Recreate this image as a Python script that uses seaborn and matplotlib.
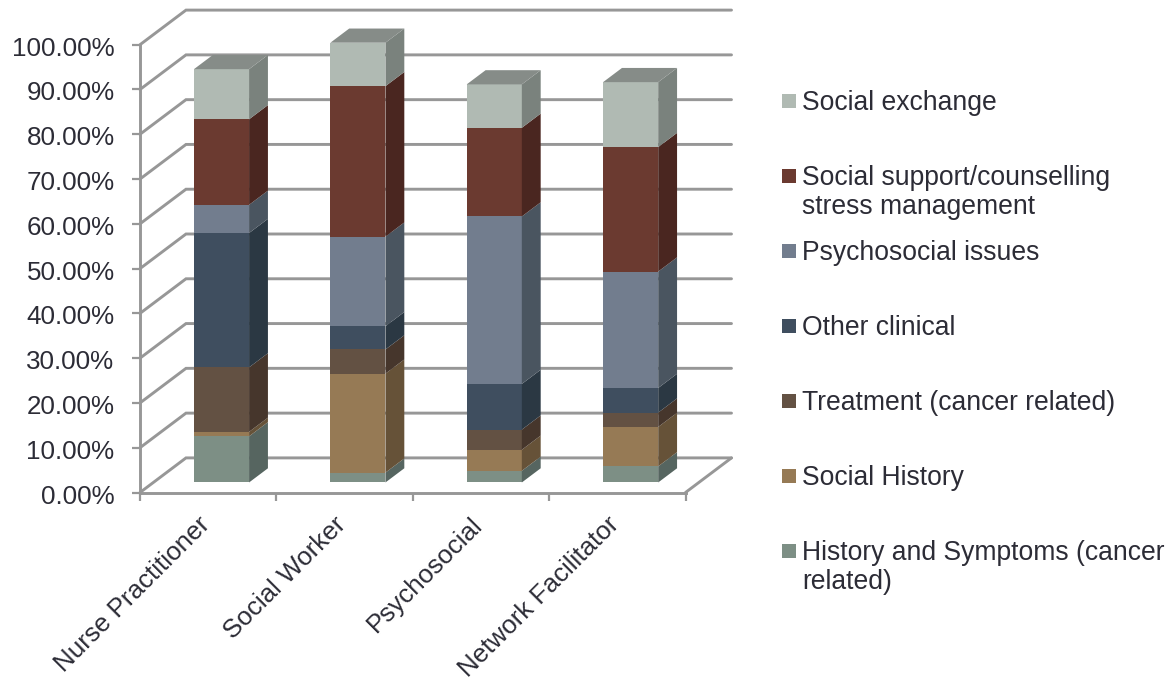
import numpy as np
import matplotlib
matplotlib.use("Agg")
import matplotlib.pyplot as plt
from matplotlib.patches import Rectangle
from matplotlib.transforms import ScaledTranslation
import seaborn as sns

# Topic shares per role, in percent, stacked from the bottom up
categories = ["Nurse Practitioner", "Social Worker", "Psychosocial", "Network Facilitator"]
history_symptoms = [10.3, 2.2, 2.6, 3.6]
social_history = [1.0, 22.1, 4.7, 8.8]
treatment = [14.4, 5.4, 4.5, 3.2]
other_clinical = [30.0, 5.2, 10.2, 5.5]
psychosocial = [6.3, 20.0, 37.4, 26.0]
social_support = [19.1, 33.6, 19.8, 27.8]
social_exchange = [11.2, 9.7, 9.7, 14.5]

series_names = [
    "History and Symptoms (cancer\nrelated)", "Social History", "Treatment (cancer related)",
    "Other clinical", "Psychosocial issues", "Social support/counselling\nstress management",
    "Social exchange",
]
series_values = [history_symptoms, social_history, treatment, other_clinical,
                 psychosocial, social_support, social_exchange]
front_colors = ["#7D8F85", "#967A55", "#635143", "#3F4E5F", "#727D8E", "#6B3A30", "#B0BAB3"]
side_colors = ["#566560", "#665238", "#46362C", "#2B3843", "#4A5560", "#4A2620", "#7A827D"]
top_color = "#868C88"
grid_color = "#979797"
text_color = "#2C2C36"

W, H = 1171, 680
sns.set_theme(style="white")
plt.rcParams["font.family"] = ["Liberation Sans", "DejaVu Sans"]

fig = plt.figure(figsize=(W / 100, H / 100), dpi=100, facecolor="white")
x0, x1, y_bottom, y_top = 140, 685.5, 492.5, 44.7
ax = fig.add_axes([x0 / W, 1 - y_bottom / H, (x1 - x0) / W, (y_bottom - y_top) / H])
ax.set_facecolor("none")

# Oblique projection: one unit of depth moves a point by (DX, DY) in data units
DX = 46 / ((x1 - x0) / 4)
DY = 34.6 / ((y_bottom - y_top) / 100)
depth_front, depth_size = 0.29, 0.41
bar_width = 0.404

# Back wall and floor
lw = 2.1
for v in np.arange(0, 101, 10):
    ax.plot([-0.5, -0.5 + DX, 3.5 + DX], [v, v + DY, v + DY], color=grid_color, lw=lw,
            clip_on=False, zorder=1, solid_joinstyle="miter")
ax.plot([3.5, 3.5 + DX], [0, DY], color=grid_color, lw=lw, clip_on=False, zorder=1)

# Front faces through seaborn, each series resting on the ones below it
positions = np.arange(len(categories)) + depth_front * DX
cumulative = np.zeros(len(categories))
for values, color in zip(series_values, front_colors):
    bottoms = cumulative + depth_front * DY
    sns.barplot(x=positions, y=values, bottom=bottoms, native_scale=True, width=bar_width,
                color=color, saturation=1, linewidth=0, ax=ax, zorder=3, clip_on=False)
    cumulative = cumulative + np.array(values)

# Side and top faces derived from the same stacked values
dx, dy = depth_size * DX, depth_size * DY
for i, pos in enumerate(positions):
    xr = pos + bar_width / 2
    xl = pos - bar_width / 2
    base = depth_front * DY
    for values, color in zip(series_values, side_colors):
        top = base + values[i]
        ax.fill([xr, xr + dx, xr + dx, xr], [base, base + dy, top + dy, top],
                color=color, lw=0, zorder=3, clip_on=False)
        base = top
    ax.fill([xl, xr, xr + dx, xl + dx], [base, base, base + dy, base + dy],
            color=top_color, lw=0, zorder=3, clip_on=False)

# Axes, ticks and labels
ax.set_xlim(-0.5, 3.5)
ax.set_ylim(0, 100)
sns.despine(ax=ax, top=True, right=True)
for side in ("left", "bottom"):
    ax.spines[side].set_color(grid_color)
    ax.spines[side].set_linewidth(lw)
    ax.spines[side].set_zorder(2)
ax.set_yticks(np.arange(0, 101, 10))
ax.set_yticklabels([f"{v:.2f}%" for v in np.arange(0, 101, 10)])
ax.set_xticks(np.arange(-0.5, 3.6, 1), labels=[""] * 5)
ax.set_xticks(np.arange(4), labels=categories, minor=True)
ax.set_xlabel("")
ax.set_ylabel("")
ax.tick_params(axis="both", which="major", length=5.8, width=1.6, color=grid_color,
               left=True, bottom=True)
ax.tick_params(axis="y", labelsize=18.7, labelcolor=text_color, pad=12.5)
ax.tick_params(axis="x", which="minor", length=0, labelsize=18.7, labelcolor=text_color, pad=12)
nudge_y = ScaledTranslation(0, -1.5 / 100, fig.dpi_scale_trans)
for label in ax.get_yticklabels():
    label.set_transform(label.get_transform() + nudge_y)
nudge_x = ScaledTranslation(-10.5 / 100, -3.5 / 100, fig.dpi_scale_trans)
for label in ax.get_xticklabels(minor=True):
    label.set_rotation(45)
    label.set_ha("right")
    label.set_va("top")
    label.set_rotation_mode("anchor")
    label.set_transform(label.get_transform() + nudge_x)

# Legend column, listed top to bottom in reverse stacking order
for k, (name, color) in enumerate(zip(series_names[::-1], front_colors[::-1])):
    cy = 101 + 75 * k
    fig.add_artist(Rectangle((782 / W, 1 - (cy + 7) / H), 14 / W, 14 / H, transform=fig.transFigure,
                             facecolor=color, edgecolor="none"))
    fig.text(802 / W, 1 - (cy - 11) / H, name, fontsize=19.1, color=text_color,
             va="top", ha="left", linespacing=1.13)

fig.savefig("out.png", dpi=100, facecolor="white")
